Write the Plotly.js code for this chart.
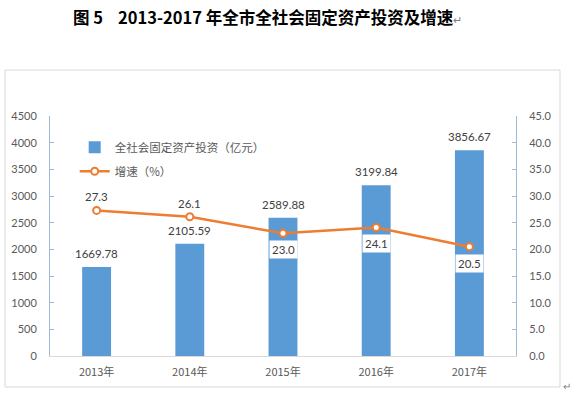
<!DOCTYPE html>
<html>
<head>
<meta charset="utf-8">
<script src="https://cdn.plot.ly/plotly-3.0.1.min.js"></script>
<style>html,body{margin:0;padding:0;background:#fff;}#chart{width:578px;height:396px;}</style>
</head>
<body>
<div id="chart"></div>
<script>
const years = ['2013年', '2014年', '2015年', '2016年', '2017年'];
const investment = [1669.78, 2105.59, 2589.88, 3199.84, 3856.67];
const growth = [27.3, 26.1, 23.0, 24.1, 20.5];
const investName = '全社会固定资产投资（亿元）';
const growthName = '增速（%）';
const titleText = '图\u00a05\u00a0\u00a0\u00a0\u00a02013-2017\u00a0年全市全社会固定资产投资及增速';

const growthLabelBelow = [false, false, true, true, true];

const numFont = 'Lato, "Noto Sans CJK SC", sans-serif';
const cjkFont = '"Noto Sans CJK SC", Lato, sans-serif';
const gray = '#595959';

const barTrace = {
  type: 'bar', x: years, y: investment, name: investName, legendgroup: 'a',
  marker: {color: '#5B9BD5'}, yaxis: 'y', hoverinfo: 'none'
};
const lineTrace = {
  type: 'scatter', mode: 'lines+markers', x: years, y: growth, name: growthName, legendgroup: 'b',
  yaxis: 'y2', line: {color: '#ED7D31', width: 2.5},
  marker: {symbol: 'circle', size: 7, color: '#ffffff', line: {color: '#ED7D31', width: 2}},
  cliponaxis: false, hoverinfo: 'none'
};

const annotations = [];
investment.forEach((v, i) => {
  annotations.push({
    x: years[i], y: v, xref: 'x', yref: 'y', text: v.toFixed(2),
    showarrow: false, yanchor: 'bottom', yshift: 5,
    font: {family: numFont, size: 11.5, color: '#404040'}
  });
});
growth.forEach((v, i) => {
  const below = growthLabelBelow[i];
  annotations.push({
    x: years[i], y: v, xref: 'x', yref: 'y2', text: v.toFixed(1),
    showarrow: false, yanchor: below ? 'top' : 'bottom', yshift: below ? -7 : 4,
    bgcolor: below ? '#ffffff' : 'rgba(0,0,0,0)', borderpad: 2,
    font: {family: numFont, size: 11.5, color: '#404040'}
  });
});
annotations.push({
  xref: 'paper', yref: 'paper', x: 1.0966, y: -0.121, xanchor: 'left', yanchor: 'middle',
  text: '↵', showarrow: false, font: {family: cjkFont, size: 10, color: '#808080'}
});

const layout = {
  width: 578, height: 396,
  margin: {l: 50, r: 62, t: 116, b: 40, pad: 0},
  paper_bgcolor: '#ffffff', plot_bgcolor: '#ffffff',
  title: {
    text: titleText + '<span style="color:#808080;font-weight:normal;font-size:11px">↵</span>',
    xref: 'container', yref: 'container', x: 73 / 578, xanchor: 'left',
    y: 1 - 18 / 396, yanchor: 'middle',
    font: {family: cjkFont, size: 16.5, color: '#000000', weight: 'bold'}
  },
  bargap: 0.69,
  showlegend: true,
  legend: {
    x: 0.053, y: 0.93, xanchor: 'left', yanchor: 'top',
    bgcolor: 'rgba(0,0,0,0)', font: {family: cjkFont, size: 11.5, color: gray},
    traceorder: 'grouped', tracegroupgap: 5, itemwidth: 30
  },
  xaxis: {
    type: 'category', showgrid: false, zeroline: false,
    showline: true, linecolor: '#d9d9d9', linewidth: 1, ticks: '',
    tickfont: {family: cjkFont, size: 11, color: gray},
    ticklabelstandoff: 6
  },
  yaxis: {
    range: [0, 4500], dtick: 500, showgrid: false, zeroline: false,
    showline: true, linecolor: '#9DBCDA', linewidth: 1,
    ticks: 'inside', ticklen: 4, tickcolor: '#9DBCDA',
    tickfont: {family: numFont, size: 11, color: gray}, ticklabelstandoff: 10
  },
  yaxis2: {
    range: [0, 45], dtick: 5, tickformat: '.1f', overlaying: 'y', side: 'right',
    showgrid: false, zeroline: false,
    showline: true, linecolor: '#9DBCDA', linewidth: 1,
    ticks: 'inside', ticklen: 4, tickcolor: '#9DBCDA',
    tickfont: {family: numFont, size: 11, color: gray}, ticklabelstandoff: 10
  },
  shapes: [{
    type: 'rect', xref: 'paper', yref: 'paper',
    x0: (5 - 50) / 466, x1: (560 - 50) / 466,
    y0: (356 - 387) / 240, y1: (356 - 70) / 240,
    line: {color: '#d9d9d9', width: 1}, fillcolor: 'rgba(0,0,0,0)', layer: 'below'
  }],
  annotations: annotations
};

Plotly.newPlot('chart', [barTrace, lineTrace], layout, {displayModeBar: false, staticPlot: true});
</script>
</body>
</html>
